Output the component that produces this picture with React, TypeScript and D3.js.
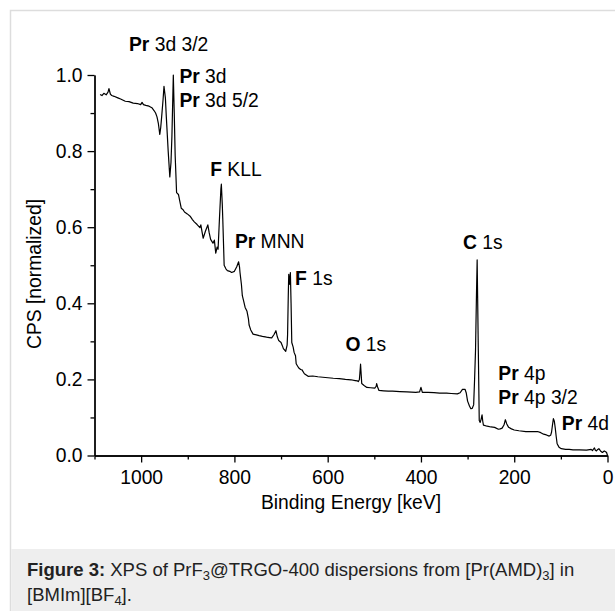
import React, { useEffect, useRef } from "react";
import * as d3 from "d3";

const width = 615;
const height = 611;

// XPS survey spectrum
const energy = [
  1088, 1084, 1080, 1075, 1071, 1069, 1066, 1063, 1058, 1050, 1044, 1034, 1026, 1017, 1008,
  1001, 998, 995, 990, 983, 977, 972, 969, 966, 963, 960, 958, 956, 953, 951, 948, 946, 942,
  938.5, 936, 934, 931, 929, 927, 924, 920, 917, 914, 910, 907, 901, 895, 890, 886, 880, 874,
  872, 869, 867, 862, 857, 854, 851, 846, 843, 840, 837, 835, 832, 829, 828, 826, 825, 822,
  818, 815, 810, 806, 800, 795, 791, 789, 788, 785, 783, 780, 777, 773, 770, 768.5, 765, 760,
  753, 747, 740, 731, 725, 720, 715, 711, 708, 705, 700, 697, 695, 690, 687, 686, 684.5,
  683.5, 682, 680, 678.5, 677, 674, 672, 669, 667.5, 665, 662, 658, 655, 650, 642, 632, 621,
  605, 588, 575, 562, 550, 541, 536, 534.5, 532, 531, 529.5, 528, 527, 522, 516, 508, 499,
  496, 495, 493, 490, 480, 470, 461, 445, 430, 411, 403, 400, 397, 385, 372, 360, 345, 335,
  322, 316, 311, 305.5, 303, 300, 296, 293, 290, 287, 285, 283, 281, 279.5, 278.5, 277, 275,
  273, 271, 269, 267.5, 266, 258, 250, 242, 234, 230, 226, 222, 219, 216, 212, 206, 200, 190,
  175, 162, 150, 143, 137, 131, 125, 122, 120, 118, 116, 114, 112, 110, 108, 104, 99, 90, 82,
  74, 60, 45, 35, 32, 30, 28, 26, 23.6, 21, 18.5, 15, 11, 7, 4, 2, 0,
];

const cps = [
  0.949, 0.946, 0.952, 0.948, 0.955, 0.964, 0.95, 0.946, 0.944, 0.94, 0.937, 0.931, 0.93,
  0.926, 0.925, 0.922, 0.928, 0.922, 0.92, 0.918, 0.914, 0.906, 0.9, 0.89, 0.872, 0.844,
  0.862, 0.89, 0.935, 0.97, 0.94, 0.89, 0.8, 0.732, 0.77, 0.839, 1.0, 0.9, 0.788, 0.691,
  0.686, 0.668, 0.65, 0.646, 0.64, 0.635, 0.629, 0.62, 0.614, 0.607, 0.599, 0.606, 0.585,
  0.571, 0.59, 0.606, 0.585, 0.568, 0.558, 0.566, 0.532, 0.548, 0.542, 0.624, 0.7, 0.713,
  0.66, 0.624, 0.5, 0.49, 0.486, 0.484, 0.481, 0.484, 0.496, 0.509, 0.495, 0.481, 0.45, 0.42,
  0.405, 0.389, 0.379, 0.36, 0.343, 0.33, 0.319, 0.317, 0.315, 0.313, 0.311, 0.31, 0.309,
  0.318, 0.328, 0.312, 0.302, 0.297, 0.288, 0.281, 0.274, 0.29, 0.317, 0.42, 0.476, 0.45,
  0.481, 0.4, 0.297, 0.285, 0.271, 0.262, 0.241, 0.236, 0.23, 0.226, 0.225, 0.215, 0.208,
  0.209, 0.207, 0.205, 0.203, 0.202, 0.2, 0.199, 0.197, 0.196, 0.194, 0.2, 0.215, 0.24, 0.21,
  0.189, 0.184, 0.179, 0.178, 0.177, 0.182, 0.189, 0.18, 0.171, 0.17, 0.169, 0.169, 0.168,
  0.167, 0.166, 0.167, 0.179, 0.166, 0.166, 0.165, 0.164, 0.164, 0.163, 0.162, 0.165, 0.174,
  0.174, 0.165, 0.143, 0.13, 0.123, 0.124, 0.133, 0.2, 0.276, 0.42, 0.514, 0.42, 0.276,
  0.092, 0.087, 0.095, 0.107, 0.09, 0.08, 0.077, 0.075, 0.074, 0.069, 0.07, 0.072, 0.08,
  0.094, 0.083, 0.074, 0.07, 0.067, 0.065, 0.063, 0.063, 0.063, 0.06, 0.056, 0.054, 0.051,
  0.053, 0.061, 0.08, 0.097, 0.09, 0.072, 0.05, 0.031, 0.022, 0.018, 0.016, 0.016, 0.015,
  0.015, 0.014, 0.016, 0.013, 0.017, 0.02, 0.014, 0.012, 0.016, 0.018, 0.012, 0.008, 0.012,
  0.01, 0.008, 0.0,
];

const xTicks = [1000, 800, 600, 400, 200, 0];
const xMinorTicks = [1100, 900, 700, 500, 300, 100];
const yTicks = [0.0, 0.2, 0.4, 0.6, 0.8, 1.0];
const yMinorTicks = [0.1, 0.3, 0.5, 0.7, 0.9];

// peak assignments (anchor in energy / cps units)
const peakLabels = [
  { bold: "Pr", rest: " 3d 3/2", e: 1026, v: 1.063 },
  { bold: "Pr", rest: " 3d", e: 918, v: 0.978 },
  { bold: "Pr", rest: " 3d 5/2", e: 918, v: 0.915 },
  { bold: "F", rest: " KLL", e: 852, v: 0.735 },
  { bold: "Pr", rest: " MNN", e: 799, v: 0.546 },
  { bold: "F", rest: " 1s", e: 670, v: 0.448 },
  { bold: "O", rest: " 1s", e: 562, v: 0.275 },
  { bold: "C", rest: " 1s", e: 310, v: 0.543 },
  { bold: "Pr", rest: " 4p", e: 234, v: 0.198 },
  { bold: "Pr", rest: " 4p 3/2", e: 234, v: 0.135 },
  { bold: "Pr", rest: " 4d", e: 98, v: 0.067 },
];

const font = "'Liberation Sans', Arial, Helvetica, sans-serif";
const fs = 19.3;

export default function App() {
  const ref = useRef<SVGSVGElement>(null);

  useEffect(() => {
    const svg = d3.select(ref.current);
    svg.selectAll("*").remove();

    const x = d3.scaleLinear().domain([1100, 0]).range([94.5, 607.5]);
    const y = d3.scaleLinear().domain([0, 1]).range([455.5, 75]);

    // figure frame and caption box
    svg
      .append("rect")
      .attr("x", 10.5)
      .attr("y", 10.5)
      .attr("width", 640)
      .attr("height", 640)
      .attr("fill", "#fff")
      .attr("stroke", "#dddddd")
      .attr("stroke-width", 1.5);
    svg
      .append("rect")
      .attr("x", 11.25)
      .attr("y", 549)
      .attr("width", 640)
      .attr("height", 80)
      .attr("fill", "#eeeeee");

    // minor ticks first, majors on top
    svg
      .append("g")
      .attr("transform", "translate(0,455.5)")
      .call(d3.axisBottom(x).tickValues(xMinorTicks).tickSize(4).tickSizeOuter(0).tickFormat(() => ""));
    svg
      .append("g")
      .attr("transform", "translate(94.5,0)")
      .call(d3.axisLeft(y).tickValues(yMinorTicks).tickSize(4).tickSizeOuter(0).tickFormat(() => ""));

    const xAxis = svg
      .append("g")
      .attr("transform", "translate(0,455.5)")
      .call(
        d3.axisBottom(x).tickValues(xTicks).tickSize(7).tickSizeOuter(0).tickPadding(8).tickFormat(d3.format("d"))
      );
    const yAxis = svg
      .append("g")
      .attr("transform", "translate(94.5,0)")
      .call(d3.axisLeft(y).tickValues(yTicks).tickSize(7).tickSizeOuter(0).tickPadding(5).tickFormat(d3.format(".1f")));

    svg.selectAll(".domain, .tick line").attr("stroke", "#000").attr("stroke-width", 1.3);
    [xAxis, yAxis].forEach((g) =>
      g.selectAll("text").attr("font-family", font).attr("font-size", fs).attr("fill", "#000")
    );

    // spectrum
    const pts = energy.map((e, i) => [e, cps[i]] as [number, number]);
    const line = d3
      .line<[number, number]>()
      .x((d) => x(d[0]))
      .y((d) => y(d[1]));
    svg
      .append("path")
      .datum(pts)
      .attr("d", line)
      .attr("fill", "none")
      .attr("stroke", "#000")
      .attr("stroke-width", 1.2)
      .attr("stroke-linejoin", "round");

    // peak labels
    const lab = svg
      .selectAll(".peak")
      .data(peakLabels)
      .enter()
      .append("text")
      .attr("class", "peak")
      .attr("x", (d) => x(d.e))
      .attr("y", (d) => y(d.v))
      .attr("font-family", font)
      .attr("font-size", fs)
      .attr("fill", "#000");
    lab.append("tspan").attr("font-weight", "bold").text((d) => d.bold);
    lab.append("tspan").text((d) => d.rest);

    // axis titles
    svg
      .append("text")
      .attr("x", 351)
      .attr("y", 509)
      .attr("text-anchor", "middle")
      .attr("font-family", font)
      .attr("font-size", fs)
      .text("Binding Energy [keV]");
    svg
      .append("text")
      .attr("transform", "translate(41,274) rotate(-90)")
      .attr("text-anchor", "middle")
      .attr("font-family", font)
      .attr("font-size", fs)
      .text("CPS [normalized]");

    // caption
    const cap1 = svg
      .append("text")
      .attr("x", 27)
      .attr("y", 576)
      .attr("font-family", font)
      .attr("font-size", 18.5)
      .attr("fill", "#222");
    cap1.append("tspan").attr("font-weight", "bold").text("Figure 3:");
    cap1.append("tspan").text(" XPS of PrF");
    cap1.append("tspan").attr("font-size", 13).attr("dy", 4).text("3");
    cap1.append("tspan").attr("dy", -4).text("@TRGO-400 dispersions from [Pr(AMD)");
    cap1.append("tspan").attr("font-size", 13).attr("dy", 4).text("3");
    cap1.append("tspan").attr("dy", -4).text("] in");

    const cap2 = svg
      .append("text")
      .attr("x", 27)
      .attr("y", 601)
      .attr("font-family", font)
      .attr("font-size", 18.5)
      .attr("fill", "#222");
    cap2.append("tspan").text("[BMIm][BF");
    cap2.append("tspan").attr("font-size", 13).attr("dy", 4).text("4");
    cap2.append("tspan").attr("dy", -4).text("].");
  }, []);

  return (
    <div style={{ position: "absolute", left: 0, top: 0 }}>
      <svg ref={ref} width={width} height={height} style={{ display: "block" }} />
    </div>
  );
}
